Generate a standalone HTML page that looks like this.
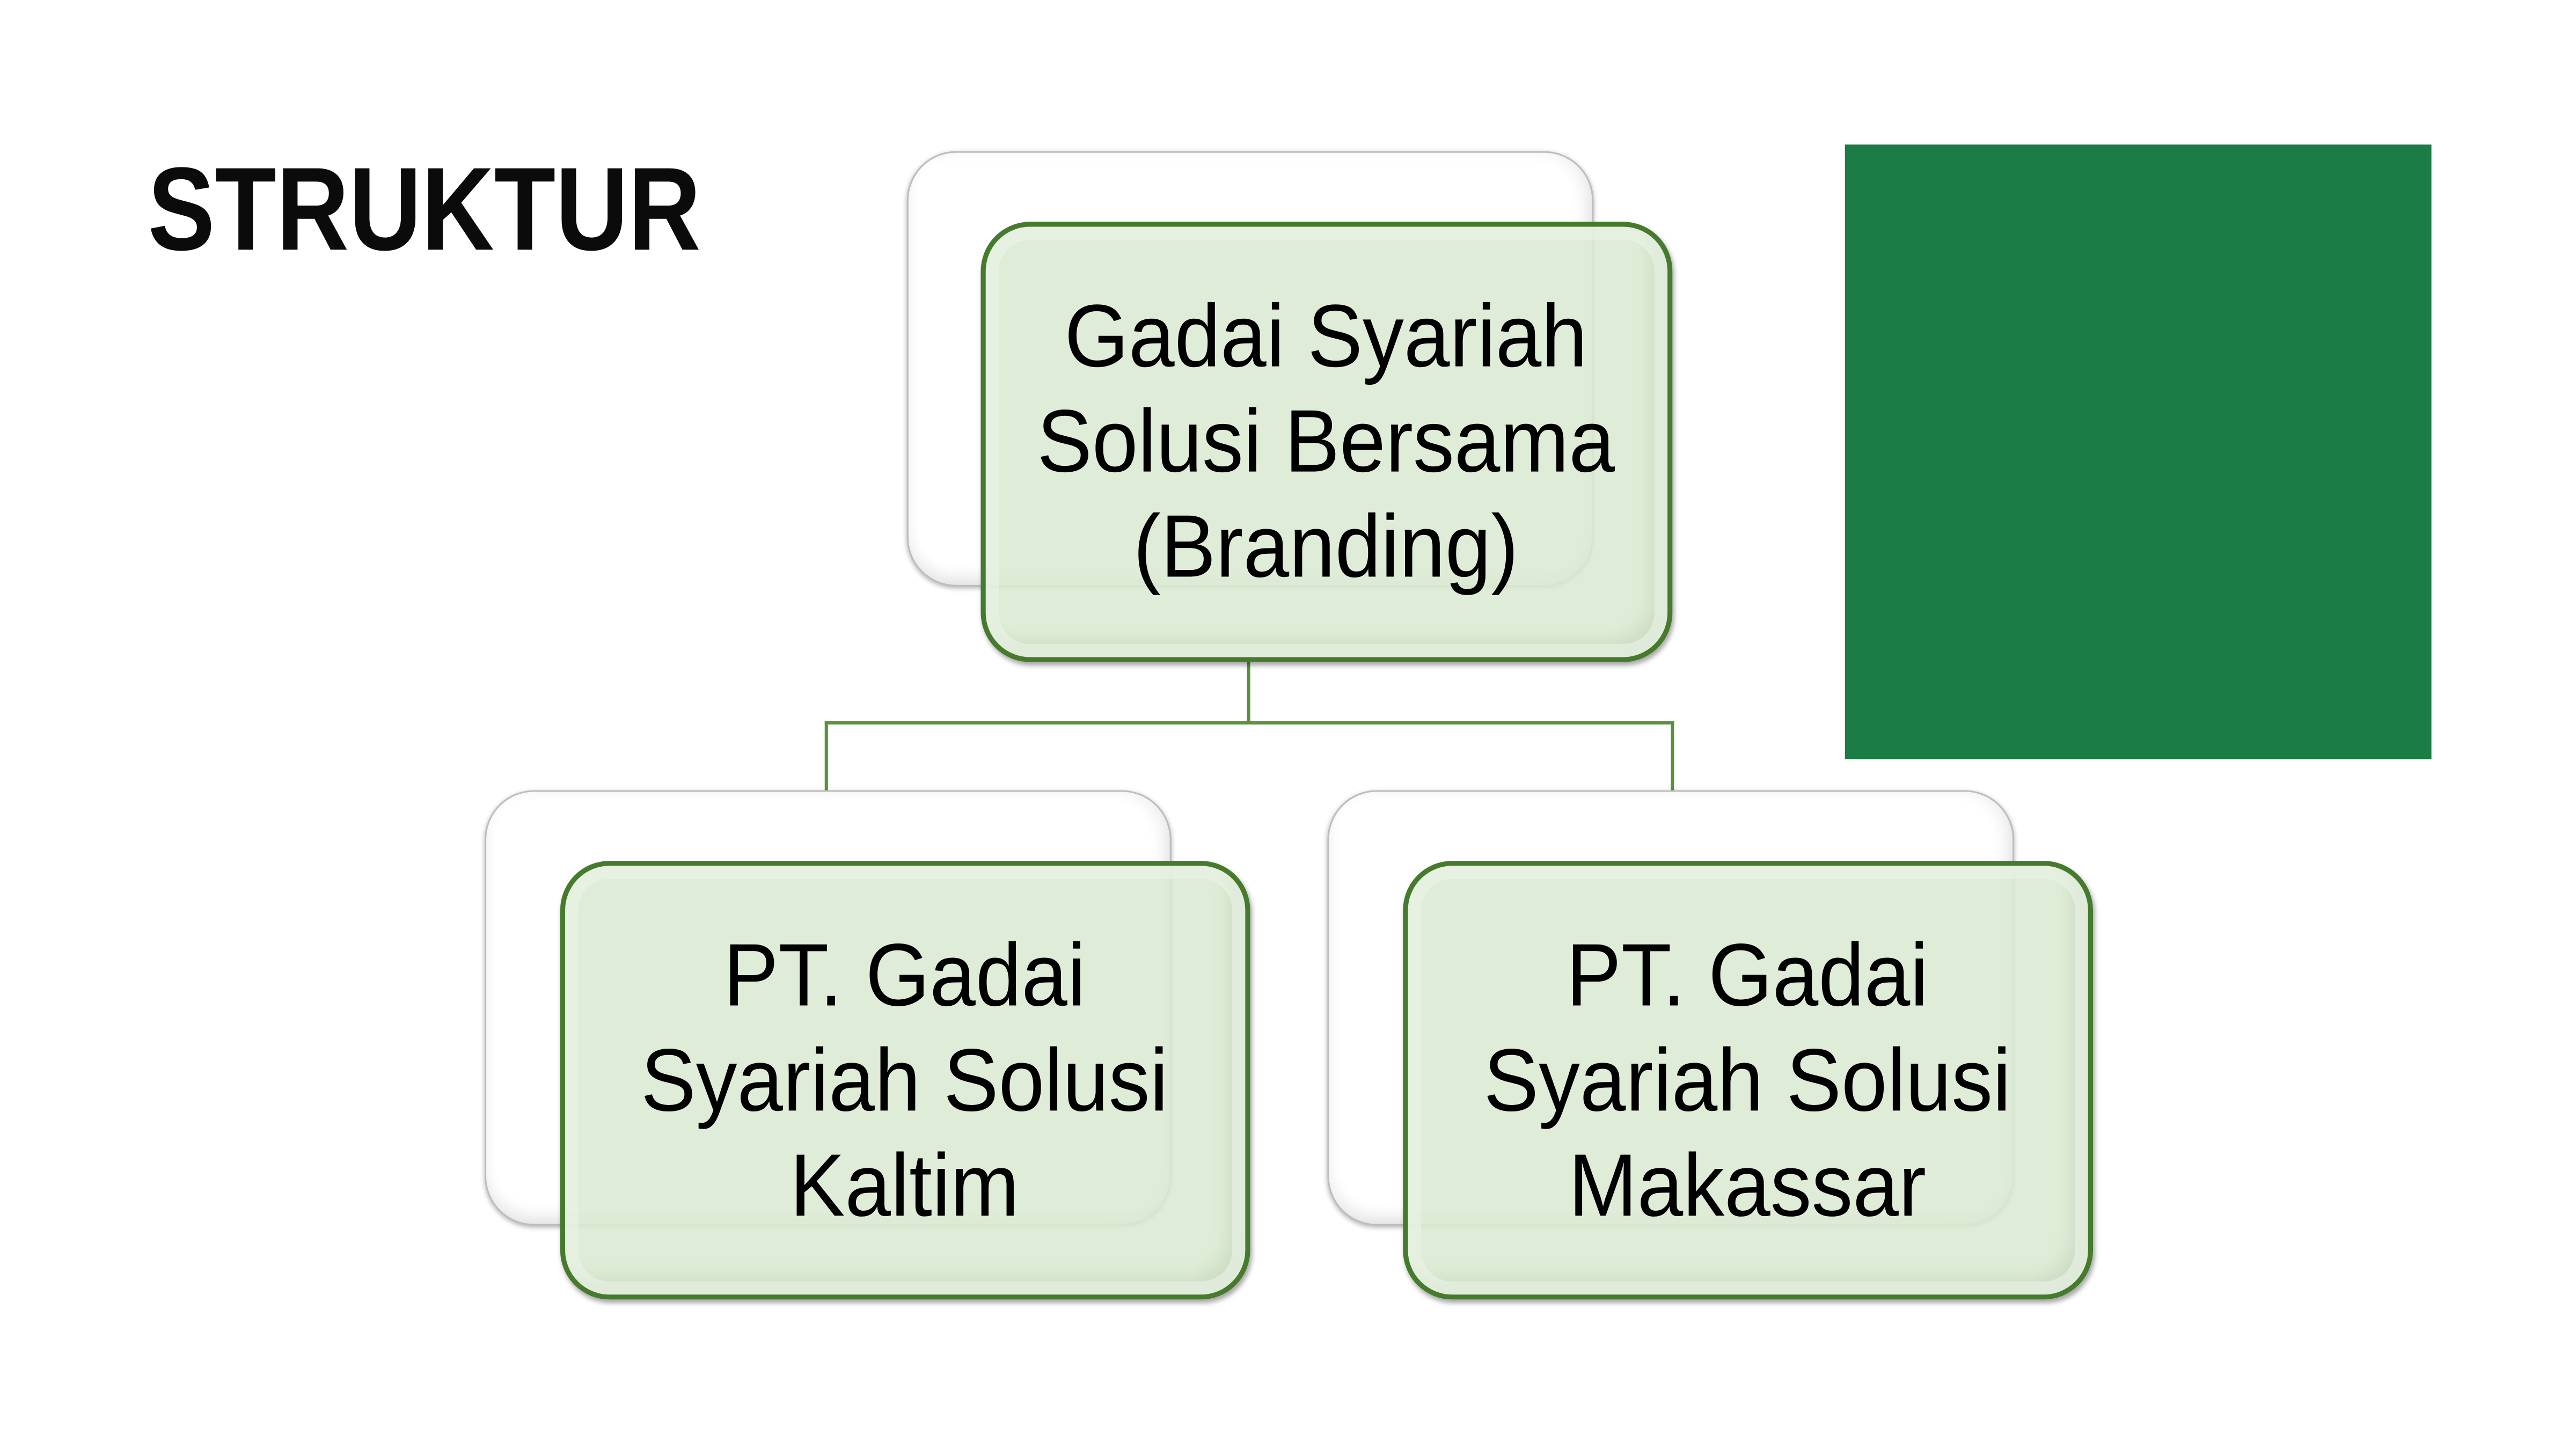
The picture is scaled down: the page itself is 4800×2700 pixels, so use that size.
<!DOCTYPE html>
<html><head><meta charset="utf-8"><style>
html,body{margin:0;padding:0;background:#fff;width:4800px;height:2700px;overflow:hidden}
#c{position:absolute;left:0;top:0;width:1568px;height:882px;transform:scale(3.06122);transform-origin:0 0}
.back{position:absolute;background:#fff;border:1.5px solid #bdbdbd;border-radius:30px;box-shadow:inset 0 -6px 8px rgba(0,0,0,0.08),inset -6px 0 8px rgba(0,0,0,0.05),0 1px 3px rgba(0,0,0,0.3)}
.front{position:absolute;box-sizing:border-box;background:rgba(219,234,211,0.88);border:3px solid #467a2c;border-radius:30px;box-shadow:inset 0 0 0 8px rgba(235,243,231,0.6),inset -10px -10px 10px rgba(150,170,140,0.25),1px 2px 3px rgba(0,0,0,0.35);display:flex;align-items:center;justify-content:center;text-align:center}
.t{font-family:"Liberation Sans",sans-serif;font-size:54px;line-height:64px;color:#000;transform:scaleX(0.93);white-space:nowrap}
.ln{position:absolute;background:#5a913d}
</style></head><body><div id="c">
<div style="position:absolute;left:90px;top:86px;font-family:'Liberation Sans',sans-serif;font-weight:bold;font-size:72px;line-height:84px;color:#0b0b0b;transform:scaleX(0.85);transform-origin:0 0;white-space:nowrap">STRUKTUR</div>
<div style="position:absolute;left:1123px;top:88px;width:357px;height:374px;background:#1b7d45"></div>

<div class="ln" style="left:759px;top:403px;width:2px;height:38px"></div>
<div class="ln" style="left:502px;top:439px;width:517px;height:2px"></div>
<div class="ln" style="left:502px;top:439px;width:2px;height:42px"></div>
<div class="ln" style="left:1017px;top:439px;width:2px;height:42px"></div>

<div class="back" style="left:552px;top:92px;width:416px;height:263px"></div>
<div class="front" style="left:597px;top:135px;width:421px;height:268px"><div class="t">Gadai Syariah<br>Solusi Bersama<br>(Branding)</div></div>

<div class="back" style="left:295px;top:481px;width:416px;height:263px"></div>
<div class="front" style="left:341px;top:524px;width:420px;height:267px"><div class="t">PT. Gadai<br>Syariah Solusi<br>Kaltim</div></div>

<div class="back" style="left:808px;top:481px;width:416px;height:263px"></div>
<div class="front" style="left:854px;top:524px;width:420px;height:267px"><div class="t">PT. Gadai<br>Syariah Solusi<br>Makassar</div></div>
</div></body></html>
